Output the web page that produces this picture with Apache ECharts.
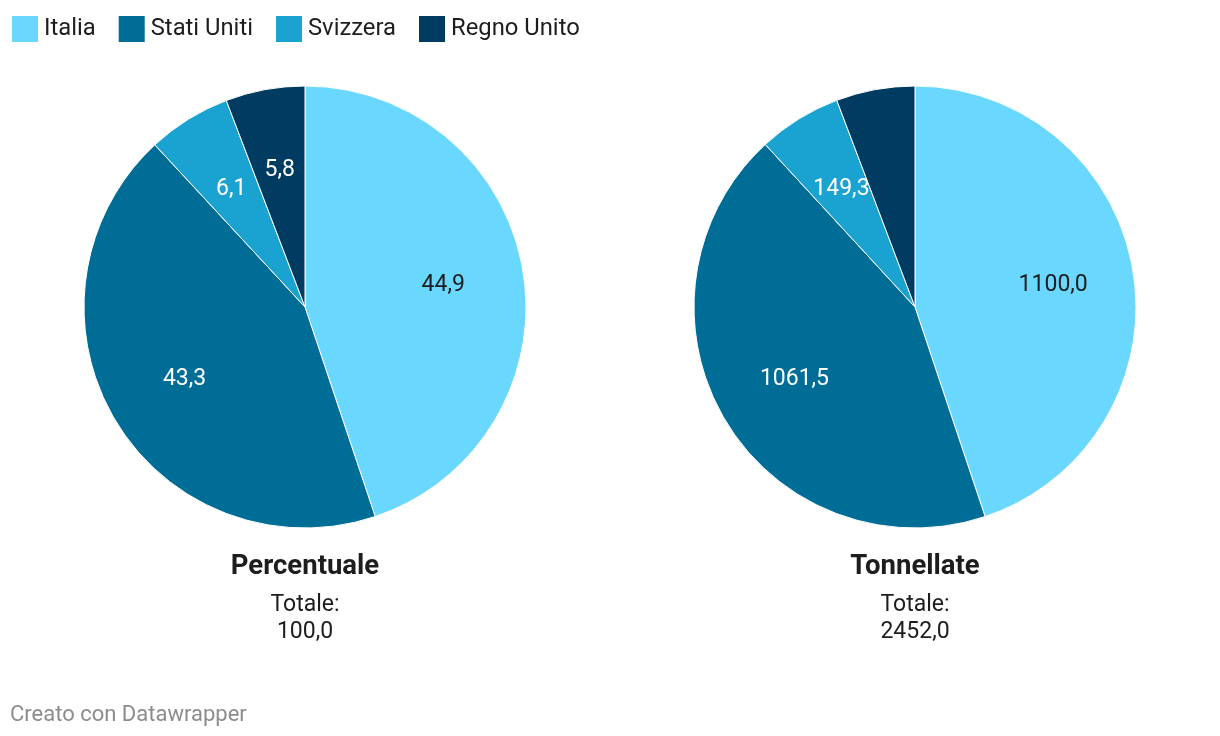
<!DOCTYPE html>
<html>
<head>
<meta charset="utf-8">
<script src="https://cdn.jsdelivr.net/npm/echarts@6/dist/echarts.min.js"></script>
<style>
html,body{margin:0;padding:0;background:#fff;}
#c{width:1220px;height:736px;}
</style>
</head>
<body>
<div id="c"></div>
<script>
const categories = ['Italia', 'Stati Uniti', 'Svizzera', 'Regno Unito'];
const colors = ['#6ad7ff', '#006d97', '#1aa2d0', '#003c61'];
const percentValues = [44.9, 43.3, 6.1, 5.8];
const tonnesValues = [1100.0, 1061.5, 149.3, 141.2];
const percentLabelShown = [true, true, true, true];
const tonnesLabelShown = [true, true, true, false];
const labelColors = ['#1d1d1d', '#ffffff', '#ffffff', '#ffffff'];
const chartTitles = ['Percentuale', 'Tonnellate'];
const totals = ['100,0', '2452,0'];

const FONT = 'Roboto, "Noto Sans", sans-serif';
const fmt = v => v.toFixed(1).replace('.', ',');

function pieItems(values, shown, withLabels) {
  return values.map((v, i) => ({
    name: categories[i],
    value: v,
    itemStyle: { color: withLabels ? 'rgba(0,0,0,0)' : colors[i] },
    label: {
      show: withLabels && shown[i],
      color: labelColors[i]
    }
  }));
}

const centers = [[305, 307], [915, 307]];
const datasets = [[percentValues, percentLabelShown], [tonnesValues, tonnesLabelShown]];
const series = [];
datasets.forEach((d, k) => {
  series.push({
    type: 'pie',
    center: centers[k],
    radius: [0, 221],
    startAngle: 90,
    clockwise: true,
    silent: true,
    animation: false,
    label: { show: false },
    labelLine: { show: false },
    itemStyle: { borderColor: '#ffffff', borderWidth: 1 },
    emphasis: { disabled: true },
    data: pieItems(d[0], d[1], false)
  });
  series.push({
    type: 'pie',
    center: [centers[k][0], centers[k][1] + 1],
    radius: [53, 221],
    startAngle: 90,
    clockwise: true,
    silent: true,
    animation: false,
    labelLine: { show: false },
    emphasis: { disabled: true },
    label: {
      show: true,
      position: 'inside',
      fontSize: 23,
      fontFamily: FONT,
      formatter: p => fmt(p.value)
    },
    itemStyle: { borderWidth: 0 },
    data: pieItems(d[0], d[1], true)
  });
});

const graphics = [];
chartTitles.forEach((t, k) => {
  const cx = centers[k][0];
  graphics.push({ type: 'text', x: cx, y: 567, style: { text: t, fontSize: 27.5, fontWeight: 'bold', fontFamily: FONT, fill: '#1d1d1d', align: 'center', verticalAlign: 'middle' } });
  graphics.push({ type: 'text', x: cx, y: 605, style: { text: 'Totale:', fontSize: 23, fontFamily: FONT, fill: '#1d1d1d', align: 'center', verticalAlign: 'middle' } });
  graphics.push({ type: 'text', x: cx, y: 632, style: { text: totals[k], fontSize: 23, fontFamily: FONT, fill: '#1d1d1d', align: 'center', verticalAlign: 'middle' } });
});
graphics.push({ type: 'text', x: 10, y: 715, style: { text: 'Creato con Datawrapper', fontSize: 22, fontFamily: FONT, fill: '#8c8c8c', align: 'left', verticalAlign: 'middle' } });

const chart = echarts.init(document.getElementById('c'), null, { renderer: 'canvas' });
chart.setOption({
  animation: false,
  backgroundColor: '#ffffff',
  color: colors,
  legend: {
    left: 10,
    top: 14,
    icon: 'rect',
    itemWidth: 28,
    itemHeight: 28,
    itemGap: 21,
    itemTextGap: 7,
    selectedMode: false,
    padding: 0,
    data: categories.map((c, i) => ({ name: c, itemStyle: { color: colors[i] } })),
    textStyle: { fontSize: 23.8, fontFamily: FONT, color: '#1d1d1d' }
  },
  series: series,
  graphic: graphics
});
</script>
</body>
</html>
